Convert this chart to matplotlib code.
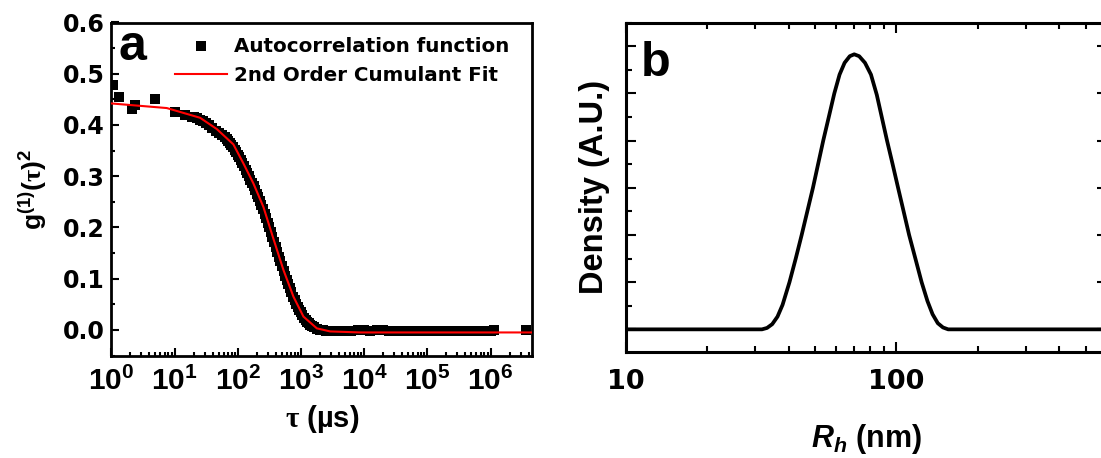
import matplotlib
matplotlib.use("Agg")
import matplotlib.pyplot as plt
from matplotlib.ticker import FixedLocator, LogLocator, MultipleLocator, FormatStrFormatter, NullFormatter

plt.rcParams["font.family"] = ["Liberation Sans", "DejaVu Sans"]
plt.rcParams["font.weight"] = "bold"
plt.rcParams["mathtext.fontset"] = "custom"
plt.rcParams["mathtext.rm"] = "Liberation Serif"
plt.rcParams["mathtext.bf"] = "Liberation Sans:bold"
plt.rcParams["mathtext.it"] = "Liberation Sans:italic:bold"
plt.rcParams["mathtext.sf"] = "Liberation Sans:bold"

# panel a: measured autocorrelation (tau in microseconds)
acf_tau = [1.05, 1.3, 2.1, 2.4, 4.9, 10.2, 14.7, 18.8,
           20.0, 22.4, 25.1, 28.2, 31.6, 35.5, 39.8, 44.7, 50.1, 56.2,
           63.1, 66.8, 70.8, 75.0, 79.4, 84.1, 89.1, 94.4, 100, 105.9,
           112.2, 118.9, 125.9, 133.4, 141.3, 149.6, 158.5, 167.9, 177.8, 188.4,
           199.5, 211.3, 223.9, 237.1, 251.2, 266.1, 281.8, 298.5, 316.2, 335.0,
           354.8, 375.8, 398.1, 421.7, 446.7, 473.2, 501.2, 530.9, 562.3, 595.7,
           631.0, 668.3, 707.9, 749.9, 794.3, 841.4, 891.3, 944.1, 1000, 1059,
           1122, 1189, 1259, 1334, 1413, 1496, 1585,
           1778, 1995, 2239, 2512, 2818, 3162,
           3981, 5012, 6310, 7943, 1.0e4, 1.26e4, 1.58e4, 2.0e4, 2.51e4, 3.16e4,
           3.98e4, 5.01e4, 6.31e4, 7.94e4, 1.0e5, 1.26e5, 1.58e5, 2.0e5, 2.51e5,
           3.16e5, 3.98e5, 5.01e5, 6.31e5, 7.94e5, 1.0e6, 1.15e6, 3.6e6]
acf_g = [0.478, 0.455, 0.432, 0.439, 0.450, 0.426, 0.419, 0.416,
         0.415, 0.413, 0.410, 0.407, 0.403, 0.399, 0.394, 0.389, 0.384, 0.380,
         0.376, 0.373, 0.369, 0.365, 0.361, 0.357, 0.352, 0.347, 0.342, 0.337,
         0.331, 0.325, 0.319, 0.313, 0.306, 0.300, 0.293, 0.287, 0.280, 0.273,
         0.266, 0.259, 0.252, 0.244, 0.236, 0.227, 0.218, 0.209, 0.200, 0.191,
         0.181, 0.172, 0.162, 0.153, 0.143, 0.134, 0.124, 0.115, 0.106, 0.097,
         0.089, 0.081, 0.073, 0.065, 0.058, 0.051, 0.045, 0.039, 0.034, 0.029,
         0.024, 0.020, 0.016, 0.013, 0.010, 0.007, 0.005,
         0.002, 0.000, -0.001, -0.002, -0.003, -0.003,
         -0.003, -0.002, -0.002, -0.001, -0.001, -0.002, -0.001, -0.001, -0.002,
         -0.002, -0.002, -0.003, -0.003, -0.003, -0.003, -0.003, -0.003, -0.003,
         -0.003, -0.003, -0.003, -0.003, -0.003, -0.002, -0.002, 0.000, 0.000]

# panel a: cumulant fit
fit_tau = [1.0, 7.55, 25.4, 46.7, 85.5, 123, 177, 255, 367, 529, 761,
           1096, 1786, 2898, 8650, 4.6e6]
fit_g = [0.442, 0.433, 0.414, 0.392, 0.362, 0.325, 0.286, 0.240, 0.178,
         0.117, 0.065, 0.026, 0.003, -0.003, -0.005, -0.005]

tau_ticks = [1, 10, 100, 1e3, 1e4, 1e5, 1e6]
tau_labels = [r"$\mathbf{10^{%d}}$" % i for i in range(7)]

# panel b: size distribution
rh_nm = [10, 31.9, 33.3, 34.8, 36.4, 38.0, 40.3, 42.5, 44.7, 46.9, 49.2,
         51.4, 53.7, 56.3, 59.0, 61.7, 64.4, 67.3, 69.9, 72.9, 76.6,
         80.6, 84.7, 88.5, 92.4, 96.9, 101.5, 106.4, 111.5, 117.6, 124.0,
         130.3, 136.1, 142.3, 148.7, 155.4, 600]
density = [0, 0, 0.03, 0.11, 0.27, 0.52, 1.0, 1.5, 2.0, 2.5, 3.0,
           3.5, 4.0, 4.5, 5.0, 5.4, 5.65, 5.79, 5.83, 5.79, 5.65,
           5.4, 4.97, 4.48, 4.0, 3.5, 3.0, 2.5, 2.0, 1.5, 1.0,
           0.6, 0.32, 0.13, 0.04, 0.0, 0.0]

W, H = 1101, 458
fig = plt.figure(figsize=(W / 100, H / 100), dpi=100)

# ---- panel a ----
ax = fig.add_axes([111.3 / W, 1 - 355.5 / H, 421.1 / W, 333.0 / H])
ax.plot(acf_tau, acf_g, "s", color="black", ms=6.5, mew=0,
        label="Autocorrelation function", zorder=2)
ax.plot(fit_tau, fit_g, color="red", lw=1.5,
        label="2nd Order Cumulant Fit", zorder=3)
ax.set_xscale("log")
ax.set_xlim(1, 4.6e6)
ax.set_ylim(-0.05, 0.6)
ax.xaxis.set_major_locator(FixedLocator(tau_ticks))
ax.set_xticks(tau_ticks, tau_labels)
ax.xaxis.set_minor_locator(LogLocator(base=10, subs=range(2, 10), numticks=30))
ax.xaxis.set_minor_formatter(NullFormatter())
ax.yaxis.set_major_locator(MultipleLocator(0.1))
ax.yaxis.set_minor_locator(MultipleLocator(0.05))
ax.yaxis.set_major_formatter(FormatStrFormatter("%.1f"))
ax.tick_params(which="both", direction="in", top=False, right=False, width=1.5)
ax.tick_params(which="major", length=5.5)
ax.tick_params(which="minor", length=3)
ax.tick_params(axis="x", which="major", pad=8, labelsize=21.5)
ax.tick_params(axis="y", which="major", pad=4.5, labelsize=17)
for lbl in ax.get_yticklabels():
    lbl.set_fontfamily("DejaVu Sans")
    lbl.set_fontweight("bold")
for s in ax.spines.values():
    s.set_linewidth(2)
ax.set_xlabel(r"$\mathrm{\tau}$ (µs)", fontsize=21, fontweight="bold", va="center")
ax.xaxis.set_label_coords(0.5, -0.19)
ax.set_ylabel(r"g$^{\mathbf{(1)}}$($\mathrm{\tau}$)$^{\mathbf{2}}$", fontsize=19,
              fontweight="bold", va="center")
ax.yaxis.set_label_coords(-0.186, 0.5)
ax.text(118, H - 60, "a", transform=None, fontsize=36, fontweight="bold",
        va="baseline", ha="left")
ax.legend(loc="upper left", bbox_to_anchor=(174.7 / W, 1 - 37.5 / H),
          bbox_transform=fig.transFigure, frameon=False, borderpad=0,
          borderaxespad=0, handlelength=2.65, handletextpad=0.35,
          labelspacing=0.5, prop={"family": "DejaVu Sans", "weight": "bold", "size": 14.3})

# ---- panel b ----
bx = fig.add_axes([625.6 / W, 1 - 352.0 / H, 481.4 / W, 329.3 / H])
bx.plot(rh_nm, density, color="black", lw=2.7)
bx.set_xscale("log")
bx.set_xlim(10, 600)
bx.set_ylim(-0.48, 6.5)
bx.set_xticks([10, 100], ["10", "100"])
bx.xaxis.set_minor_locator(LogLocator(base=10, subs=range(2, 10), numticks=30))
bx.xaxis.set_minor_formatter(NullFormatter())
bx.yaxis.set_major_locator(MultipleLocator(1))
bx.yaxis.set_minor_locator(MultipleLocator(0.5))
bx.tick_params(axis="y", which="both", labelleft=False)
bx.tick_params(which="both", direction="in", top=True, right=True, width=1.5)
bx.tick_params(which="major", length=7)
bx.tick_params(which="minor", length=4)
bx.tick_params(axis="x", which="major", pad=12, labelsize=19.5)
for lbl in bx.get_xticklabels():
    lbl.set_fontfamily("DejaVu Sans")
    lbl.set_fontweight("bold")
for s in bx.spines.values():
    s.set_linewidth(2.2)
bx.set_xlabel(r"$R_h$ (nm)", fontsize=22, fontweight="bold", va="center")
bx.xaxis.set_label_coords(0.5, -0.264)
bx.set_ylabel("Density (A.U.)", fontsize=23.5, fontweight="bold", va="center")
bx.yaxis.set_label_coords(-0.0646, 0.5)
bx.text(641, H - 75.5, "b", transform=None, fontsize=35, fontweight="bold",
        va="baseline", ha="left")

fig.savefig("out.png", dpi=100)
